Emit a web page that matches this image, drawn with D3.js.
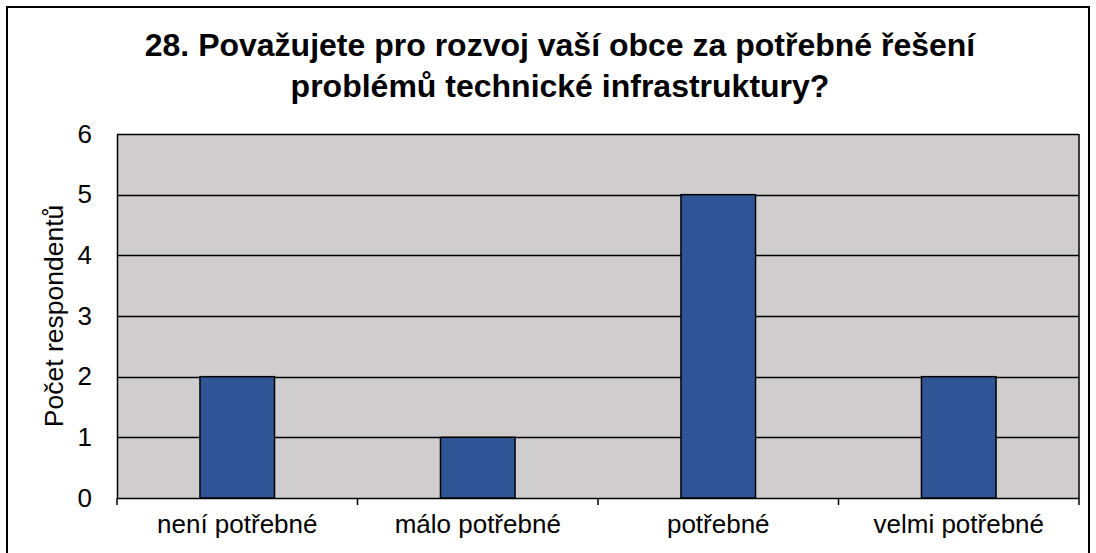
<!DOCTYPE html>
<html>
<head>
<meta charset="utf-8">
<script src="https://cdn.jsdelivr.net/npm/d3@7"></script>
<style>
  body { margin: 0; background: #fff; }
  svg { display: block; font-family: Arial, "Liberation Sans", sans-serif; }
</style>
</head>
<body>
<div class="canvas"></div>
<script>
// Data
const categories = ['není potřebné', 'málo potřebné', 'potřebné', 'velmi potřebné'];
const counts = [2, 1, 5, 2];
const yTicks = [0, 1, 2, 3, 4, 5, 6];
const titleLines = ['28. Považujete pro rozvoj vaší obce za potřebné řešení', 'problémů technické infrastruktury?'];
const yLabel = 'Počet respondentů';

// Graph set up
const svgWidth = 1096;
const svgHeight = 553;
const margin = {top:134, right:17, bottom:55, left:117};
const graphWidth = svgWidth - margin.left - margin.right;
const graphHeight = svgHeight - margin.top - margin.bottom;
const fontFamily = 'Arial, "Liberation Sans", sans-serif';

const svg = d3.select('.canvas')
    .append('svg')
    .attr('width',svgWidth)
    .attr('height',svgHeight);

// outer chart frame
svg.append('rect')
    .attr('x',7)
    .attr('y',7)
    .attr('width',svgWidth - 14)
    .attr('height',svgHeight)
    .attr('fill','#fff')
    .attr('stroke','#000')
    .attr('stroke-width',2);

// title
svg.append('text')
    .attr('text-anchor','middle')
    .attr('font-size',32)
    .attr('font-weight','bold')
    .selectAll('tspan')
    .data(titleLines)
    .enter()
    .append('tspan')
        .attr('x',560)
        .attr('y',(d,i) => 56 + i*41)
        .text(d => d);

const graph = svg.append('g')
    .attr('transform',`translate(${margin.left},${margin.top})`);

// Scales
const x = d3.scaleBand().domain(categories).range([0,graphWidth]).paddingInner(0.69).paddingOuter(0.345);
const xBand = d3.scaleBand().domain(categories).range([0,graphWidth]);
const y = d3.scaleLinear().domain([0,6]).range([graphHeight,0]);

// plot background
graph.append('rect')
    .attr('width',graphWidth)
    .attr('height',graphHeight)
    .attr('fill','#cfcdce');

// gridlines
graph.append('g')
    .selectAll('line')
    .data(yTicks)
    .enter()
    .append('line')
        .attr('x1',0)
        .attr('x2',graphWidth)
        .attr('y1',d => Math.round(y(d)) + 0.5)
        .attr('y2',d => Math.round(y(d)) + 0.5)
        .attr('stroke','#000')
        .attr('stroke-width',1.5);

// bars
graph.selectAll('.bar')
    .data(categories)
    .enter()
    .append('rect')
        .attr('class','bar')
        .attr('x',d => x(d))
        .attr('y',(d,i) => y(counts[i]))
        .attr('width',x.bandwidth())
        .attr('height',(d,i) => graphHeight - y(counts[i]))
        .attr('fill','#2f5597')
        .attr('stroke','#000')
        .attr('stroke-width',1.5);

// plot border (left & right)
graph.append('line')
    .attr('x1',0.5).attr('x2',0.5)
    .attr('y1',0).attr('y2',graphHeight)
    .attr('stroke','#000').attr('stroke-width',1.5);
graph.append('line')
    .attr('x1',graphWidth).attr('x2',graphWidth)
    .attr('y1',0).attr('y2',graphHeight)
    .attr('stroke','#000').attr('stroke-width',1.5);

// Axes
const xAxis = d3.axisBottom(xBand).tickSize(0).tickPadding(0);
const xAxisGroup = graph.append('g')
    .attr('transform',`translate(0,${graphHeight})`)
    .call(xAxis);
xAxisGroup.select('.domain').remove();
xAxisGroup.selectAll('text')
    .attr('y',35)
    .attr('dy',0)
    .attr('font-size',26)
    .attr('font-family',fontFamily)
    .attr('fill','#000');

// category separator ticks
graph.append('g')
    .selectAll('line')
    .data(d3.range(categories.length + 1))
    .enter()
    .append('line')
        .attr('x1',i => i * xBand.step())
        .attr('x2',i => i * xBand.step())
        .attr('y1',graphHeight)
        .attr('y2',graphHeight + 7)
        .attr('stroke','#000')
        .attr('stroke-width',1.5);

const yAxis = d3.axisLeft(y).tickValues(yTicks).tickFormat(d3.format('d')).tickSize(0).tickPadding(25);
const yAxisGroup = graph.append('g').call(yAxis);
yAxisGroup.select('.domain').remove();
yAxisGroup.selectAll('text')
    .attr('font-size',26)
    .attr('font-family',fontFamily)
    .attr('fill','#000');

// y axis title
svg.append('text')
    .attr('transform',`translate(63,${margin.top + graphHeight/2}) rotate(-90)`)
    .attr('text-anchor','middle')
    .attr('font-size',26.5)
    .text(yLabel);
</script>
</body>
</html>
